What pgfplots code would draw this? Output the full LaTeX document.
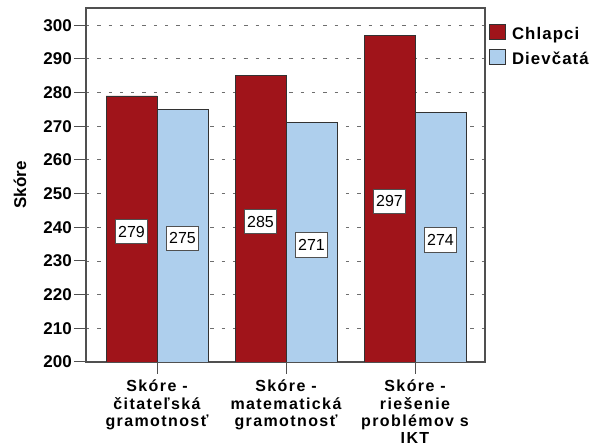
\documentclass[border=0pt]{standalone}
\usepackage{fontspec}
\setmainfont{Liberation Sans}
\newfontfamily\widesans[LetterSpace=8.7]{Liberation Sans}
\newfontfamily\legendsans[LetterSpace=6.5]{Liberation Sans}
\usepackage{pgfplots}
\usepackage{pgfplotstable}
\pgfplotsset{compat=1.18}

\definecolor{boys}{RGB}{160,20,26}
\definecolor{girls}{RGB}{174,207,237}
\definecolor{framegray}{RGB}{80,80,80}
\definecolor{bargray}{RGB}{50,50,50}
\definecolor{gridgray}{RGB}{110,110,110}

% mean scores by domain
\pgfplotstableread{
x chlapci dievcata
0 279 275
1 285 271
2 297 274
}\scores

\begin{document}
\begin{tikzpicture}
\useasboundingbox (-86pt,-85pt) rectangle (506pt,362pt);
\begin{axis}[
  scale only axis, width=399pt, height=354pt,
  xmin=-0.5504, xmax=2.5426, ymin=200, ymax=305.1,
  /pgf/number format/assume math mode=true,
  xtick={0,1,2},
  xticklabels={{Skóre -\\čitateľská\\gramotnosť},
               {Skóre -\\matematická\\gramotnosť},
               {Skóre -\\riešenie\\problémov s\\IKT}},
  ytick={200,210,...,300},
  xtick pos=bottom, ytick pos=left,
  tick align=outside, major tick length=12pt,
  tick style={framegray, line width=1pt},
  axis line style={framegray, line width=1.3pt},
  ymajorgrids,
  major grid style={gridgray, line width=0.9pt, dash pattern=on 3.3pt off 8pt},
  yticklabel style={font=\bfseries\fontsize{17}{20}\selectfont, inner sep=0pt, xshift=-2pt},
  xticklabel style={font=\widesans\bfseries\fontsize{16}{17.2}\selectfont, align=center,
                    anchor=north, inner sep=0pt, yshift=-6pt},
  ylabel={\bfseries Skóre},
  ylabel style={at={([xshift=-66pt]axis description cs:0,0.5)}, anchor=center,
                font=\fontsize{17}{20}\selectfont},
  legend image code/.code={\draw[#1, line width=0.8pt] (0pt,-5.5pt) rectangle (16pt,9.5pt);},
  legend style={at={(axis description cs:1,1)}, anchor=north west,
                xshift=4pt, yshift=-16pt, draw=none, fill=none, inner sep=0pt,
                font=\legendsans\bfseries\fontsize{16.8}{20}\selectfont, row sep=5.3pt,
                nodes={inner sep=0pt, text height=15pt, text depth=4pt},
                /tikz/every odd column/.append style={column sep=6pt}},
  legend cell align=left,
]
\addplot[ybar, bar width=51pt, bar shift=-25.5pt, fill=boys, draw=bargray, line width=0.8pt]
  table[x=x, y=chlapci] {\scores};
\addlegendentry{Chlapci}
\addplot[ybar, bar width=51pt, bar shift=25.5pt, fill=girls, draw=bargray, line width=0.8pt]
  table[x=x, y=dievcata] {\scores};
\addlegendentry{Dievčatá}

% value labels at mid-height of each bar
\pgfplotsset{valuelabel/.style={
  forget plot, only marks, mark=none, point meta=explicit, nodes near coords,
  every node near coord/.append style={anchor=center, fill=white, draw=framegray,
    line width=0.8pt, inner xsep=2.5pt, inner ysep=6.3pt, text height=11.5pt,
    text depth=0pt, font=\fontsize{16}{18}\selectfont, yshift=-2.5pt, xshift=#1}}}
\addplot[valuelabel=-25.5pt]
  table[x=x, y expr={(\thisrow{chlapci}+200)/2}, meta=chlapci] {\scores};
\addplot[valuelabel=25.5pt]
  table[x=x, y expr={(\thisrow{dievcata}+200)/2}, meta=dievcata] {\scores};
\end{axis}
\end{tikzpicture}
\end{document}
